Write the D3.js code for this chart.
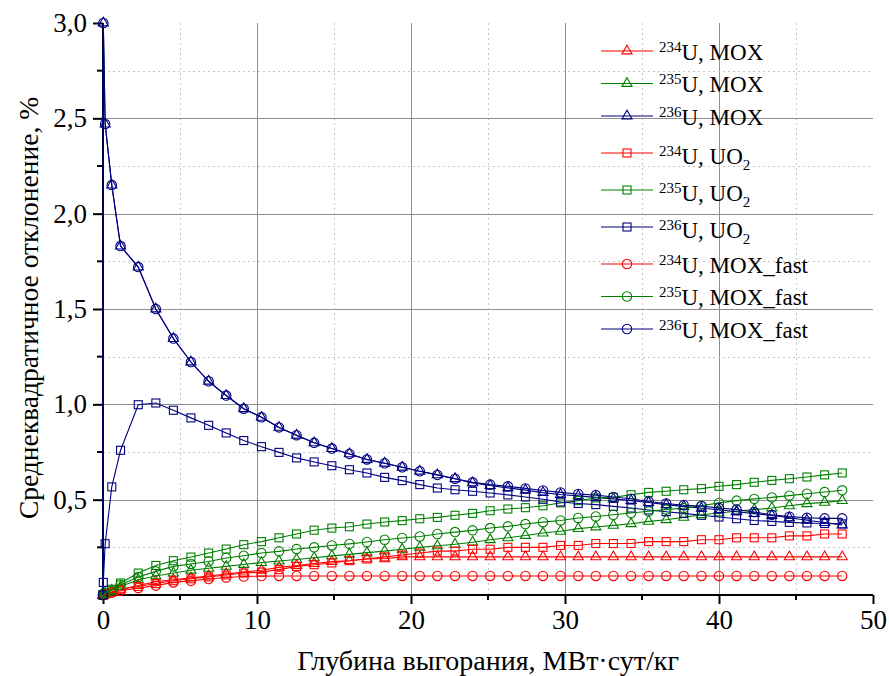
<!DOCTYPE html>
<html>
<head>
<meta charset="utf-8">
<script src="https://cdn.jsdelivr.net/npm/d3@7/dist/d3.min.js"></script>
<style>
  html, body { margin: 0; padding: 0; background: #fff; }
</style>
</head>
<body>
<svg id="chart" width="889" height="676"></svg>
<script>
// Burnup, MWd/kg
const burnup = [0, 0.02, 0.14, 0.57, 1.14, 2.29, 3.43, 4.57, 5.71, 6.86, 8.00, 9.14, 10.29, 11.43,
  12.57, 13.71, 14.86, 16.00, 17.14, 18.29, 19.43, 20.57, 21.71, 22.86,
  24.00, 25.14, 26.29, 27.43, 28.57, 29.71, 30.86, 32.00, 33.14, 34.29,
  35.43, 36.57, 37.71, 38.86, 40.00, 41.14, 42.29, 43.43, 44.57, 45.71, 46.86, 48.00];

// RMS deviation, %
const u234Mox = [0, 0, 0.005, 0.015, 0.03, 0.05, 0.07, 0.08, 0.09, 0.10, 0.11, 0.12, 0.13, 0.145,
  0.155, 0.165, 0.175, 0.18, 0.19, 0.19, 0.20, 0.20, 0.20, 0.20,
  0.20, 0.20, 0.20, 0.20, 0.20, 0.20, 0.20, 0.20, 0.20, 0.20,
  0.20, 0.20, 0.20, 0.20, 0.20, 0.20, 0.20, 0.20, 0.20, 0.20, 0.20, 0.20];
const u235Mox = [0, 0, 0.01, 0.025, 0.045, 0.08, 0.10, 0.115, 0.13, 0.14, 0.15, 0.16, 0.17, 0.178,
  0.186, 0.195, 0.205, 0.213, 0.222, 0.23, 0.24, 0.25, 0.258, 0.266,
  0.277, 0.29, 0.30, 0.312, 0.325, 0.334, 0.348, 0.357, 0.365, 0.374,
  0.386, 0.395, 0.407, 0.421, 0.43, 0.439, 0.448, 0.456, 0.468, 0.479, 0.486, 0.495];
const u236Mox = [0, 3.00, 2.47, 2.15, 1.83, 1.72, 1.50, 1.345, 1.222, 1.121, 1.046, 0.977, 0.932, 0.879,
  0.838, 0.798, 0.768, 0.740, 0.711, 0.691, 0.670, 0.649, 0.630, 0.610,
  0.588, 0.574, 0.562, 0.550, 0.537, 0.527, 0.520, 0.512, 0.504, 0.495,
  0.485, 0.474, 0.465, 0.455, 0.447, 0.437, 0.427, 0.417, 0.405, 0.392, 0.380, 0.367];
const u234Uo2 = [0, 0, 0.005, 0.015, 0.03, 0.045, 0.06, 0.075, 0.085, 0.095, 0.105, 0.115, 0.12, 0.133,
  0.15, 0.159, 0.168, 0.18, 0.189, 0.20, 0.21, 0.22, 0.23, 0.23,
  0.24, 0.24, 0.25, 0.25, 0.25, 0.26, 0.26, 0.27, 0.27, 0.27,
  0.28, 0.28, 0.28, 0.29, 0.29, 0.30, 0.30, 0.30, 0.31, 0.31, 0.32, 0.32];
const u235Uo2 = [0, 0, 0.01, 0.03, 0.063, 0.115, 0.155, 0.18, 0.199, 0.22, 0.241, 0.264, 0.28, 0.30,
  0.32, 0.34, 0.351, 0.358, 0.372, 0.383, 0.39, 0.40, 0.407, 0.418,
  0.428, 0.442, 0.451, 0.458, 0.468, 0.483, 0.495, 0.509, 0.512, 0.526,
  0.538, 0.544, 0.552, 0.558, 0.57, 0.579, 0.591, 0.601, 0.61, 0.619, 0.63, 0.64];
const u236Uo2 = [0, 0.066, 0.269, 0.567, 0.759, 0.998, 1.007, 0.969, 0.929, 0.890, 0.850, 0.810, 0.778, 0.748,
  0.719, 0.698, 0.678, 0.657, 0.640, 0.617, 0.600, 0.579, 0.561, 0.552,
  0.544, 0.535, 0.525, 0.514, 0.502, 0.488, 0.480, 0.474, 0.465, 0.456,
  0.446, 0.437, 0.428, 0.418, 0.409, 0.400, 0.391, 0.386, 0.381, 0.378, 0.375, 0.373];
const u234Fast = [0, 0, 0.003, 0.012, 0.022, 0.037, 0.049, 0.066, 0.074, 0.084, 0.092, 0.097, 0.099, 0.10,
  0.10, 0.10, 0.10, 0.10, 0.10, 0.10, 0.10, 0.10, 0.10, 0.10,
  0.10, 0.10, 0.10, 0.10, 0.10, 0.10, 0.10, 0.10, 0.10, 0.10,
  0.10, 0.10, 0.10, 0.10, 0.10, 0.10, 0.10, 0.10, 0.10, 0.10, 0.10, 0.10];
const u235Fast = [0, 0, 0.008, 0.025, 0.054, 0.094, 0.124, 0.15, 0.163, 0.176, 0.194, 0.206, 0.22, 0.229,
  0.241, 0.25, 0.26, 0.268, 0.278, 0.29, 0.299, 0.307, 0.32, 0.33,
  0.339, 0.351, 0.36, 0.372, 0.382, 0.391, 0.404, 0.412, 0.421, 0.43,
  0.439, 0.448, 0.456, 0.468, 0.483, 0.495, 0.504, 0.512, 0.521, 0.531, 0.54, 0.549];
const u236Fast = [0, 3.00, 2.47, 2.15, 1.83, 1.72, 1.50, 1.345, 1.222, 1.121, 1.046, 0.977, 0.932, 0.879,
  0.838, 0.798, 0.768, 0.740, 0.711, 0.691, 0.670, 0.649, 0.630, 0.610,
  0.591, 0.579, 0.570, 0.559, 0.548, 0.538, 0.530, 0.524, 0.514, 0.505,
  0.490, 0.480, 0.471, 0.466, 0.456, 0.448, 0.435, 0.421, 0.411, 0.405, 0.402, 0.402];

const xTicks = [0, 10, 20, 30, 40, 50];
const yTicks = [0.5, 1.0, 1.5, 2.0, 2.5, 3.0];

const series = [
  { iso: "234", fuel: "MOX", sub: null, marker: "triangle", color: "#ff0000", values: u234Mox },
  { iso: "235", fuel: "MOX", sub: null, marker: "triangle", color: "#008000", values: u235Mox },
  { iso: "236", fuel: "MOX", sub: null, marker: "triangle", color: "#000080", values: u236Mox },
  { iso: "234", fuel: "UO", sub: "2", marker: "square", color: "#ff0000", values: u234Uo2 },
  { iso: "235", fuel: "UO", sub: "2", marker: "square", color: "#008000", values: u235Uo2 },
  { iso: "236", fuel: "UO", sub: "2", marker: "square", color: "#000080", values: u236Uo2 },
  { iso: "234", fuel: "MOX_fast", sub: null, marker: "circle", color: "#ff0000", values: u234Fast },
  { iso: "235", fuel: "MOX_fast", sub: null, marker: "circle", color: "#008000", values: u235Fast },
  { iso: "236", fuel: "MOX_fast", sub: null, marker: "circle", color: "#000080", values: u236Fast }
];

const SERIF = '"Liberation Serif"';

const svg = d3.select("#chart");
const x = d3.scaleLinear().domain([0, 50]).range([103, 873]);
const y = d3.scaleLinear().domain([0, 3]).range([595, 23]);
const fmt = v => d3.format(".1f")(v).replace(".", ",");

// Grid: solid at major ticks, dotted at the midpoints
const grid = svg.append("g");
d3.range(5, 50, 5).forEach(v => {
  const major = v % 10 === 0;
  grid.append("line")
    .attr("x1", Math.round(x(v)) + 0.5).attr("x2", Math.round(x(v)) + 0.5)
    .attr("y1", y(3)).attr("y2", y(0))
    .attr("stroke", major ? "#8f8f8f" : "#c8c8c8")
    .attr("stroke-dasharray", major ? null : "2,3");
});
d3.range(0.25, 3, 0.25).forEach(v => {
  const major = Math.abs(v * 2 - Math.round(v * 2)) < 1e-9;
  grid.append("line")
    .attr("y1", Math.round(y(v)) + 0.5).attr("y2", Math.round(y(v)) + 0.5)
    .attr("x1", x(0)).attr("x2", x(50))
    .attr("stroke", major ? "#8f8f8f" : "#c8c8c8")
    .attr("stroke-dasharray", major ? null : "2,3");
});

// Axes
const xAxis = d3.axisBottom(x).tickValues(xTicks).tickSize(9).tickPadding(6).tickFormat(d3.format("d"));
const yAxis = d3.axisLeft(y).tickValues(yTicks).tickSize(10).tickPadding(6).tickFormat(fmt);

const gx = svg.append("g").attr("transform", `translate(0,${y(0)})`).call(xAxis);
const gy = svg.append("g").attr("transform", `translate(${x(0)},0)`).call(yAxis);
[gx, gy].forEach(g => {
  g.attr("font-family", null).attr("font-size", null);
  g.select(".domain").attr("stroke", "#000").attr("stroke-width", 2);
  g.selectAll(".tick line").attr("stroke", "#000").attr("stroke-width", 2);
  g.selectAll(".tick text").style("font-family", SERIF).style("font-size", "27px").attr("fill", "#000");
});
gx.select(".domain").attr("d", `M${x(0)},0H${x(50)}`);
gy.select(".domain").attr("d", `M0,${y(0)}V${y(3)}`);

// Minor ticks
gx.selectAll(".minor").data(d3.range(5, 50, 10)).enter().append("line")
  .attr("x1", d => x(d)).attr("x2", d => x(d)).attr("y1", 0).attr("y2", 5)
  .attr("stroke", "#000").attr("stroke-width", 2);
gy.selectAll(".minor").data(d3.range(0.25, 3, 0.5)).enter().append("line")
  .attr("y1", d => y(d)).attr("y2", d => y(d)).attr("x1", 0).attr("x2", -6)
  .attr("stroke", "#000").attr("stroke-width", 2);

// Axis titles
svg.append("text")
  .attr("x", x(25)).attr("y", 670)
  .attr("text-anchor", "middle")
  .style("font-family", SERIF).style("font-size", "28px")
  .text("Глубина выгорания, МВт·сут/кг");
svg.append("text")
  .attr("transform", `translate(38,${(y(0) + y(3)) / 2 - 1}) rotate(-90)`)
  .attr("text-anchor", "middle")
  .style("font-family", SERIF).style("font-size", "27.5px")
  .text("Среднеквадратичное отклонение, %");

// Marker drawing
function marker(sel, type, color) {
  if (type === "circle") {
    sel.append("circle").attr("r", 4.7);
  } else if (type === "square") {
    sel.append("rect").attr("x", -4).attr("y", -4).attr("width", 8).attr("height", 8);
  } else {
    sel.append("path").attr("d", d3.symbol(d3.symbolTriangle, 44)());
  }
  sel.selectAll("circle,rect,path")
    .attr("fill", "none").attr("stroke", color).attr("stroke-width", 1.1);
}

const line = d3.line().x(d => x(d[0])).y(d => y(d[1]));
const plot = svg.append("g");
series.forEach(s => {
  const pts = burnup.map((b, i) => [b, s.values[i]]);
  const g = plot.append("g");
  g.append("path").attr("d", line(pts)).attr("fill", "none")
    .attr("stroke", s.color).attr("stroke-width", 1.1);
  g.selectAll("g.m").data(pts).enter().append("g")
    .attr("transform", d => `translate(${x(d[0])},${y(d[1])})`)
    .each(function () { marker(d3.select(this), s.marker, s.color); });
});

// Legend
const legend = svg.append("g");
let rowY = 51;
series.forEach((s, i) => {
  if (i > 0) rowY += (s.sub || series[i - 1].sub) ? 37 : 32.5;
  const row = legend.append("g").attr("transform", `translate(0,${rowY})`);
  row.append("line").attr("x1", 601).attr("x2", 653).attr("y1", 0).attr("y2", 0)
    .attr("stroke", s.color).attr("stroke-width", 1.1);
  const m = row.append("g").attr("transform", "translate(627,0)");
  marker(m, s.marker, s.color);
  const base = s.sub ? 11 : 8.5;
  const t = row.append("text").attr("x", 659).attr("y", base)
    .style("font-family", SERIF).style("font-size", "23px");
  t.append("tspan").style("font-size", "15px").attr("dy", -8).text(s.iso);
  t.append("tspan").attr("dy", 8).text("U, " + s.fuel);
  if (s.sub) t.append("tspan").style("font-size", "15px").attr("dy", 6).text(s.sub);
});
</script>
</body>
</html>
